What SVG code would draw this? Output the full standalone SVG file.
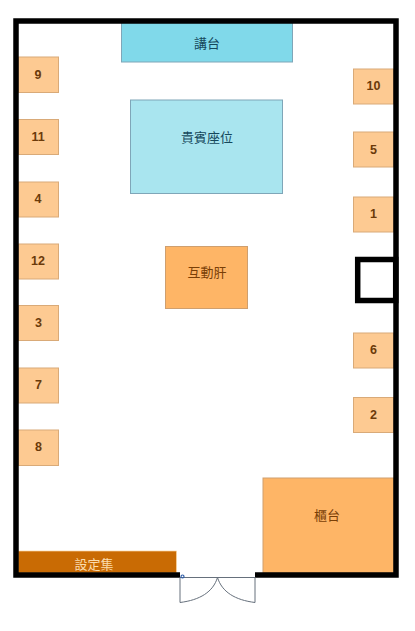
<svg xmlns="http://www.w3.org/2000/svg" width="415" height="631" viewBox="0 0 415 631">
<style>
text{font-family:"Liberation Sans","Noto Sans CJK TC",sans-serif;text-anchor:middle;dominant-baseline:central}
.wall{fill:none;stroke:#000;stroke-width:5.500}
.seat rect{fill:#fdca92;stroke:#d9aa78;stroke-width:1}
.seat text{font-size:12.500px;font-weight:bold;fill:#6b3a0a}
.blue{stroke:#7fa6b8;stroke-width:1}
.big{fill:#feb566;stroke:#cf9f6e;stroke-width:1}
.lab{font-size:13px}
.door{fill:none;stroke:#66707c;stroke-width:1}
</style>
<rect width="415" height="631" fill="#fff"/>
<g id="stage"><rect class="blue" x="121.500" y="22" width="171" height="40" fill="#80d9ea"/><text class="lab" x="207" y="43" fill="#15485c">講台</text></g>
<g id="vip"><rect class="blue" x="130.500" y="100" width="152" height="93.500" fill="#a9e5ef"/><text class="lab" x="207" y="137" fill="#15485c">貴賓座位</text></g>
<g id="interact"><rect class="big" x="165.500" y="246.500" width="82" height="62"/><text class="lab" x="207" y="272.500" fill="#7a3f06">互動肝</text></g>
<g id="counter"><rect class="big" x="263" y="478" width="131" height="95"/><text class="lab" x="327" y="515.500" fill="#7a3f06">櫃台</text></g>
<g id="shelf"><rect x="18" y="551" width="158.500" height="22" fill="#c96b04" stroke="#fbd7a4" stroke-width="0.700"/><text class="lab" x="94" y="564" fill="#fbdcae">設定集</text></g>
<g id="seat-9" class="seat"><rect x="18.500" y="57" width="40" height="35.500"/><text x="38" y="74.500">9</text></g>
<g id="seat-11" class="seat"><rect x="18.500" y="119.500" width="40" height="35"/><text x="38" y="136.500">11</text></g>
<g id="seat-4" class="seat"><rect x="18.500" y="182" width="40" height="35"/><text x="38" y="199">4</text></g>
<g id="seat-12" class="seat"><rect x="18.500" y="244" width="40" height="35"/><text x="38" y="261">12</text></g>
<g id="seat-3" class="seat"><rect x="18.500" y="305.500" width="40" height="35"/><text x="38.500" y="322.500">3</text></g>
<g id="seat-7" class="seat"><rect x="18.500" y="368" width="40" height="35"/><text x="38.500" y="385">7</text></g>
<g id="seat-8" class="seat"><rect x="18.500" y="430" width="40" height="35.500"/><text x="38.500" y="447">8</text></g>
<g id="seat-10" class="seat"><rect x="353.500" y="69" width="40" height="35"/><text x="373.500" y="86">10</text></g>
<g id="seat-5" class="seat"><rect x="353.500" y="132" width="40" height="35"/><text x="373.500" y="150">5</text></g>
<g id="seat-1" class="seat"><rect x="353.500" y="197" width="40" height="35"/><text x="373.500" y="214">1</text></g>
<g id="seat-6" class="seat"><rect x="353.500" y="333" width="40" height="35"/><text x="373.500" y="350">6</text></g>
<g id="seat-2" class="seat"><rect x="353.500" y="397.500" width="40" height="35"/><text x="373.500" y="415">2</text></g>
<g id="walls">
<path class="wall" d="M180 575H16V21H396V575H255"/>
<rect class="wall" x="357.700" y="259.500" width="38" height="41"/>
</g>
<g id="door">
<path class="door" d="M180 577.500H255M180 577.500V602.500C200 600 213 592 217.500 577.500C222 592 235 600 255 602.500V577.500"/>
<circle cx="182.500" cy="576.500" r="1.500" fill="none" stroke="#2f5da8" stroke-width="1.200"/>
</g>
</svg>
